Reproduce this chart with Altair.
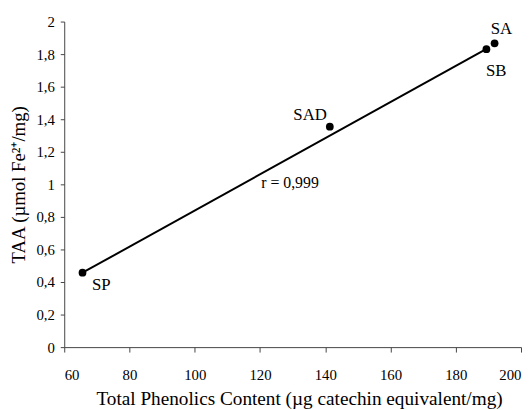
import altair as alt
import pandas as pd

samples = ["SP", "SAD", "SB", "SA"]
phenolics = [65.6, 141.4, 189.4, 191.9]
taa = [0.457, 1.354, 1.83, 1.866]

line_x = [65.6, 189.7]
line_y = [0.457, 1.835]

r_text = "r = 0,999"
r_pos = (129.2, 1.006)

x_ticks = [60, 80, 100, 120, 140, 160, 180, 200]
y_ticks = [0, 0.2, 0.4, 0.6, 0.8, 1, 1.2, 1.4, 1.6, 1.8, 2]

pts = pd.DataFrame({"x": phenolics, "y": taa, "s": samples})
ln = pd.DataFrame({"x": line_x, "y": line_y})

FONT = "Liberation Serif"

xs = alt.Scale(domain=[60, 200], nice=False)
ys = alt.Scale(domain=[0, 2], nice=False)

xax = alt.Axis(title="Total Phenolics Content (µg catechin equivalent/mg)", values=x_ticks,
               grid=False, tickSize=5, labelPadding=16, titlePadding=7, labelOverlap=False,
               titleFontSize=19.5, titleX=238)
yax = alt.Axis(title="TAA (µmol Fe²⁺/mg)", values=y_ticks,
               grid=False, tickSize=4, labelPadding=6, titlePadding=8, labelOverlap=False,
               labelExpr="replace(format(datum.value, '.1~f'), '.', ',')")

X = alt.X("x:Q", scale=xs, axis=xax)
Y = alt.Y("y:Q", scale=ys, axis=yax)

line = alt.Chart(ln).mark_line(color="black", strokeWidth=2).encode(x=X, y=Y)
points = alt.Chart(pts).mark_circle(color="black", opacity=1, size=62).encode(x=X, y=Y)

offsets = {"SA": (7, -15), "SB": (10, 22), "SAD": (-20, -12), "SP": (19, 12)}
layers = [line, points]
for s, (dx, dy) in offsets.items():
    layers.append(
        alt.Chart(pts).transform_filter(alt.datum.s == s).mark_text(
            font=FONT, fontSize=17, color="black", dx=dx, dy=dy, baseline="middle", align="center"
        ).encode(x=X, y=Y, text="s:N")
    )
rdf = pd.DataFrame({"x": [r_pos[0]], "y": [r_pos[1]], "t": [r_text]})
layers.append(alt.Chart(rdf).mark_text(font=FONT, fontSize=16, color="black", baseline="middle").encode(
    x=X, y=Y, text="t:N"))

chart = alt.layer(*layers).properties(
    width=521, height=403,
    autosize=alt.AutoSizeParams(type="fit", contains="padding"),
    padding={"top": 4, "left": 1, "right": 0, "bottom": 0}
).configure_view(stroke=None).configure_axis(
    labelFont=FONT, titleFont=FONT, labelFontSize=15, titleFontSize=19,
    titleFontWeight="normal", labelColor="black", titleColor="black",
    domainColor="#444444", tickColor="#444444", domainWidth=1, tickWidth=1
)

chart.save("out.html", embed_options={"renderer": "svg", "actions": False})
